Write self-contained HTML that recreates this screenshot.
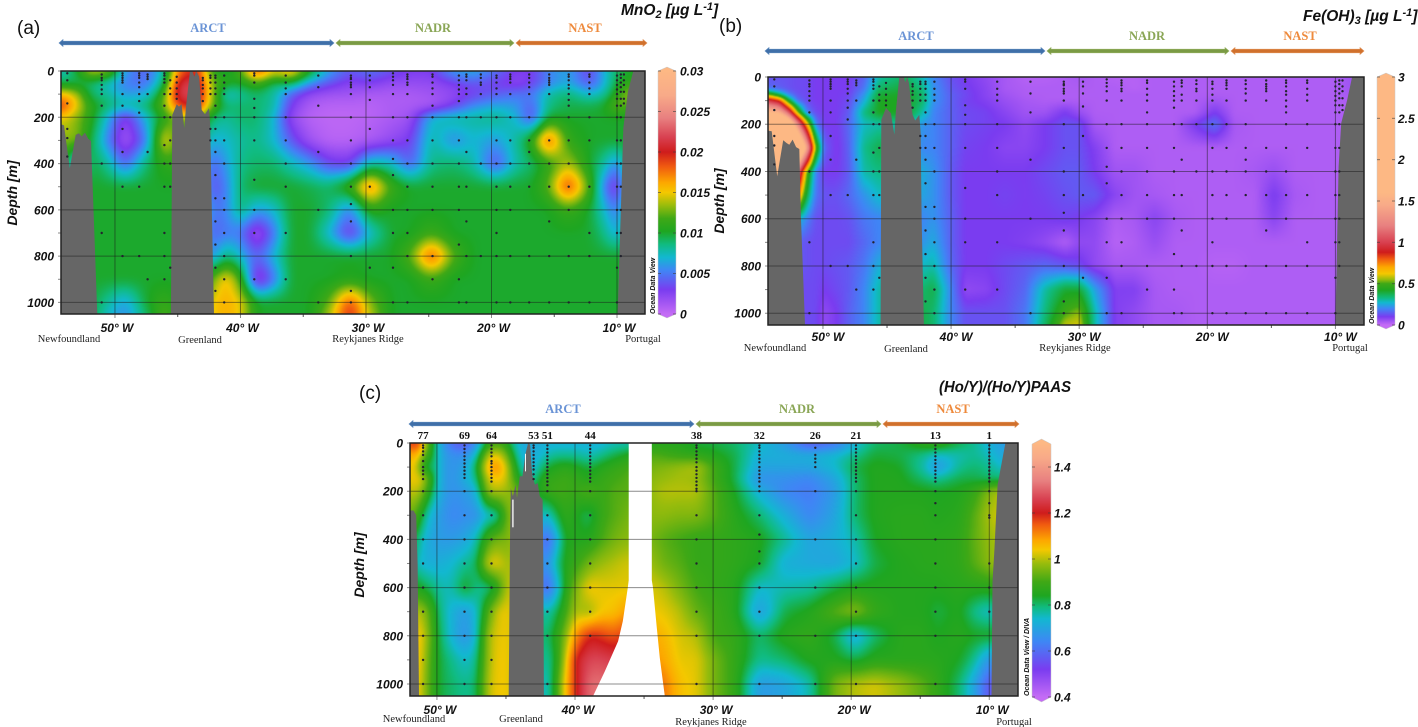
<!DOCTYPE html>
<html lang="en">
<head>
<meta charset="utf-8">
<title>Depth sections of MnO2, Fe(OH)3 and (Ho/Y)/(Ho/Y)PAAS</title>
<style>
html,body{margin:0;padding:0;background:#fff;}
#figure{position:relative;width:1418px;height:727px;overflow:hidden;background:#fff;filter:blur(0.35px);}
canvas{position:absolute;display:block;z-index:0;}
#overlay{position:absolute;left:0;top:0;z-index:1;}
text{font-family:"Liberation Sans",Arial,sans-serif;}
.panel-letter{font-size:19px;fill:#111;}
.chart-title{font-size:15.5px;font-weight:bold;font-style:italic;fill:#111;}
.region{font-family:"Liberation Serif",serif;font-size:12.5px;font-weight:bold;text-anchor:middle;}
.place{font-family:"Liberation Serif",serif;font-size:10.5px;fill:#222;text-anchor:middle;}
.axis-title{font-size:14px;font-weight:bold;font-style:italic;fill:#111;text-anchor:middle;}
.tick{font-size:12px;font-weight:bold;font-style:italic;fill:#111;}
.odv{font-size:7px;font-weight:bold;font-style:italic;fill:#111;}
.station-num{font-family:"Liberation Serif",serif;font-size:11px;font-weight:bold;fill:#111;text-anchor:middle;}
</style>
</head>
<body>
<div id="figure">
<canvas id="mno2-canvas"></canvas>
<canvas id="feoh3-canvas"></canvas>
<canvas id="hoy-canvas"></canvas>
<svg id="overlay" width="1418" height="727" viewBox="0 0 1418 727" xmlns="http://www.w3.org/2000/svg">
  <defs id="gradients"></defs>

  <text class="panel-letter" x="17" y="34">(a)</text>
  <text class="panel-letter" x="719" y="32">(b)</text>
  <text class="panel-letter" x="359" y="399">(c)</text>

  <text class="chart-title" x="621" y="15">MnO<tspan dy="3" font-size="11">2</tspan><tspan dy="-3"> [µg L</tspan><tspan dy="-5" font-size="11">-1</tspan><tspan dy="5">]</tspan></text>
  <text class="chart-title" x="1303" y="21">Fe(OH)<tspan dy="3" font-size="11">3</tspan><tspan dy="-3"> [µg L</tspan><tspan dy="-5" font-size="11">-1</tspan><tspan dy="5">]</tspan></text>
  <text class="chart-title" x="939" y="392" textLength="132" lengthAdjust="spacingAndGlyphs">(Ho/Y)/(Ho/Y)PAAS</text>

  <text class="region" x="208" y="32" fill="#6b94d6">ARCT</text>
  <text class="region" x="433" y="32" fill="#8aa656">NADR</text>
  <text class="region" x="585" y="32" fill="#ee8a3c">NAST</text>
  <text class="region" x="916" y="40" fill="#6b94d6">ARCT</text>
  <text class="region" x="1147" y="40" fill="#8aa656">NADR</text>
  <text class="region" x="1300" y="40" fill="#ee8a3c">NAST</text>
  <text class="region" x="563" y="413" fill="#6b94d6">ARCT</text>
  <text class="region" x="797" y="413" fill="#8aa656">NADR</text>
  <text class="region" x="953" y="413" fill="#ee8a3c">NAST</text>

  <text class="place" x="69" y="342">Newfoundland</text>
  <text class="place" x="200" y="343">Greenland</text>
  <text class="place" x="368" y="342">Reykjanes Ridge</text>
  <text class="place" x="643" y="342">Portugal</text>
  <text class="place" x="775" y="351">Newfoundland</text>
  <text class="place" x="906" y="352">Greenland</text>
  <text class="place" x="1075" y="351">Reykjanes Ridge</text>
  <text class="place" x="1350" y="351">Portugal</text>
  <text class="place" x="414" y="722">Newfoundland</text>
  <text class="place" x="521" y="722">Greenland</text>
  <text class="place" x="711" y="725">Reykjanes Ridge</text>
  <text class="place" x="1014" y="725">Portugal</text>

  <text class="axis-title" transform="translate(17,193) rotate(-90)">Depth [m]</text>
  <text class="axis-title" transform="translate(724,201) rotate(-90)">Depth [m]</text>
  <text class="axis-title" transform="translate(364,565) rotate(-90)">Depth [m]</text>

  <text class="odv" transform="translate(655,314) rotate(-90)">Ocean Data View</text>
  <text class="odv" transform="translate(1374,324) rotate(-90)">Ocean Data View</text>
  <text class="odv" transform="translate(1029,696) rotate(-90)">Ocean Data View / DIVA</text>
</svg>
</div>

<script>
/* ---------- shared axis values ---------- */
const lonTicks = [50, 40, 30, 20, 10];
const lonMinorTicks = [45, 35, 25, 15];
const depthTicks = [0, 200, 400, 600, 800, 1000];
const depthMinorTicks = [100, 300, 500, 700, 900];

/* ---------- colour ramp shared by all panels ---------- */
const rampColors = ['#c46cf5','#7a3cf0','#3f86f5','#12b8d0','#10bb80','#1ea621','#3fa816','#98bc0c','#f4c800','#fda800','#f05a10','#cf1c1c','#d84050','#e88080','#f8aa88','#fdb884'];

/* ---------- (a) MnO2, values in 0.001 ug/L ---------- */
const mno2RampStops = [0,3,5.4,7,8.6,10.2,11.8,13.4,15,16.2,18.2,20,21.8,24.2,27,30];
const mno2BarTicks = [0,5,10,15,20,25,30];
const mno2BarLabels = ['0','0.005','0.01','0.015','0.02','0.025','0.03'];
const mno2Lons = [54.3,53,52,50.5,49.2,47.5,46,45,43.5,42.3,41.2,40,38.7,37.3,36,34.5,33,31.3,29.7,28,26.5,24.8,23,21.5,19.7,18,16.8,15.5,13.9,12.2,11,10,9,7.77];
const mno2Depths = [0,50,100,150,200,300,400,500,600,700,800,900,1000,1050];
const mno2Values = [
[7,10,15,14,6,4,8,17,20,11,9,12,20,15,17,11,6.5,4,5,4,3,3,6.5,7,5,3,3,5.5,6.5,3,7,9,10,10],
[9,9,9,7,5,4.5,9,21,22,13,11,10,12,9,10,6,4,2.5,3,2,2,2,3,4,3,2,3,5,6.5,3.5,6.5,10,11,10],
[16,14,9,8,6,6.5,12,22,22,14,6.5,8,9,8,4,2,1.5,1.5,1,1,1,1.5,2,3,4,5,5,8,9,7,8,11,14,14],
[20,15,11,9,8,9,13,19,21,13,9,9,9,8,3,1,.5,.5,.5,1,1,1,3,5.5,6.5,6,4,8.5,9.5,9.5,10,13,12,10],
[15,13,11,6.5,2,7,11,13,14,9,8,9,9,7,2,.5,.3,.3,.5,1,1.5,7,8,8,8.5,7,3,10,10,10,10,10,10,10],
[13,13,10,5,1,5,16,11,10,6.5,7,8,8.5,7,4,1.5,.5,.5,1,2,3,8,5.5,7,6,8,11,19,11,10,10,10,10,10],
[13,3,10,8,4,9,11,11,10,4,6,8.5,9,9,7.5,6,3.5,3,8,7.5,4,8.5,9,8,3.5,8,9,11,14,10,8,5,10,10],
[10,10,10,10,10,10,10,10,10,3.5,5,9,10,10,10,9.5,9,11.5,18,11.5,10,10,10,10,10,10,10,12,19.5,12,5,1.5,10,10],
[10,10,10,10,10,10,10,10,10,5,5,9,6,7,10,10,9,5,11,10,10,10,10,10,10,10,10,10,11.5,10,7,4.5,10,10],
[10,10,10,10,10,10,10,10,10,4,5,5,1,5,10,10,7,2.5,7,10,10,11.5,10,10,10,10,10,10,10,10,8.5,6,10,10],
[10,10,10,10,10,10,10,10,10,5,9,7,4,7,10,10,10,10,10,10,12,19,12,10,10,10,10,10,10,10,10,10,10,10],
[10,10,10,10,10,10,10,10,10,12,16,12,1,5,10,10,10,10.5,10,10,10,11.5,10,10,10,10,10,10,10,10,10,10,10,10],
[10,10,10,8,6,10,11.5,10,10,15,16,15,10,10,10,10,12,19,13,10,10,10,10,10,10,10,10,10,10,10,10,10,10,10],
[10,10,10,7,5.5,9,12.5,10,10,15,16,15,10,10,10,10,13.5,20,14,10,10,10,10,10,10,10,10,10,10,10,10,10,10,10]
];
const mno2ShelfLons = [54.3,54.3,54.06,53.6,53.13,52.87,52.65,52.39,52.13,51.91,51.41];
const mno2ShelfDepths = [1050,230,235,420,276,269,283,266,293,302,1050];
const mno2RidgeLons = [45.54,45.43,45.08,44.9,44.69,44.48,44.34,44.02,43.84,43.68,43.52,43.3,43.09,42.83,42.51,42.41,42.3,42.11];
const mno2RidgeDepths = [1050,190,144,154,144,247,154,0,0,24,0,24,168,187,161,233,550,1050];
const mno2SlopeLons = [8.7,9.13,9.5,9.63,9.95,7.77,7.77];
const mno2SlopeDepths = [0,89,247,480,1050,1050,0];

/* ---------- (b) Fe(OH)3, values in ug/L ---------- */
const feRampStops = [0,.1,.2,.27,.33,.42,.5,.55,.62,.7,.8,.88,1,1.2,1.45,1.6];
const feBarTicks = [0,.5,1,1.5,2,2.5,3];
const feBarLabels = ['0','0.5','1','1.5','2','2.5','3'];
const feLons = [54.3,53.4,52.7,52,51.3,50.6,49.9,48.9,48,46.8,45.6,43.5,42.2,41.4,40,38.9,37.3,35.8,34.2,32.7,31.1,30,28.8,27.2,25.7,24.1,22.5,21,19.4,17.9,16.3,14.8,13.2,11.6,10,8.8,7.77];
const feDepths = [0,50,75,100,150,200,300,400,500,600,700,800,900,1000,1050];
const feValues = [
[.13,.13,.13,.12,.12,.1,.1,.1,.1,.15,.3,.36,.28,.2,.13,.1,.07,.04,.02,.02,.03,.04,.03,.02,.02,.03,.03,.03,.03,.03,.03,.03,.03,.03,.03,.05,.05],
[.17,.15,.13,.12,.12,.1,.1,.1,.1,.18,.36,.4,.33,.22,.14,.11,.08,.04,.03,.03,.03,.03,.03,.03,.02,.03,.03,.03,.03,.03,.03,.03,.03,.03,.03,.05,.05],
[.55,.35,.2,.13,.12,.1,.1,.1,.11,.22,.4,.42,.35,.22,.15,.12,.08,.05,.03,.03,.03,.03,.03,.03,.03,.03,.03,.03,.03,.03,.03,.03,.03,.03,.03,.04,.04],
[1,.85,.42,.17,.12,.1,.1,.1,.12,.25,.42,.42,.35,.22,.15,.11,.09,.06,.04,.03,.03,.03,.03,.03,.03,.03,.03,.03,.05,.03,.03,.03,.03,.03,.03,.03,.03],
[1.6,1.5,1.1,.55,.2,.12,.1,.1,.14,.33,.42,.42,.3,.2,.15,.12,.11,.08,.05,.05,.1,.06,.03,.03,.03,.03,.03,.03,.1,.03,.03,.03,.03,.03,.03,.03,.03],
[2.5,2.4,2,1.3,.7,.2,.1,.1,.16,.28,.3,.3,.22,.2,.15,.12,.11,.1,.07,.1,.13,.13,.04,.03,.03,.03,.03,.1,.17,.04,.03,.03,.03,.03,.03,.03,.03],
[2.5,2.5,2.5,2.3,1.5,.55,.15,.09,.15,.32,.38,.3,.2,.2,.15,.11,.1,.08,.08,.1,.13,.13,.09,.03,.03,.03,.03,.03,.03,.03,.03,.03,.03,.03,.03,.03,.03],
[2,2,1.8,1.2,.55,.2,.1,.1,.14,.3,.33,.3,.25,.22,.14,.1,.1,.1,.1,.12,.14,.14,.1,.05,.05,.03,.03,.03,.03,.03,.04,.06,.03,.03,.03,.03,.03],
[2,1.5,1,.8,.4,.18,.13,.13,.16,.22,.28,.26,.24,.22,.14,.1,.1,.11,.1,.11,.13,.14,.14,.08,.05,.04,.03,.03,.03,.03,.03,.1,.04,.03,.03,.03,.03],
[.3,.3,.3,.3,.2,.13,.12,.12,.13,.18,.2,.2,.2,.22,.15,.1,.1,.1,.1,.1,.11,.1,.08,.03,.04,.08,.04,.03,.03,.03,.03,.08,.03,.03,.03,.03,.03],
[.15,.15,.15,.15,.13,.12,.12,.12,.12,.16,.2,.2,.22,.25,.15,.1,.1,.1,.09,.07,.03,.07,.07,.02,.03,.06,.03,.03,.03,.03,.03,.03,.03,.03,.03,.03,.03],
[.14,.14,.14,.14,.13,.12,.12,.13,.14,.18,.26,.28,.28,.3,.16,.1,.1,.12,.14,.16,.14,.12,.07,.04,.04,.03,.03,.03,.02,.02,.03,.03,.03,.03,.03,.03,.03],
[.12,.12,.12,.12,.12,.12,.1,.12,.14,.2,.3,.33,.35,.38,.2,.07,.08,.12,.16,.3,.4,.4,.24,.09,.09,.04,.03,.03,.03,.03,.03,.03,.03,.03,.03,.03,.03],
[.12,.12,.12,.12,.12,.12,.07,.1,.15,.2,.3,.35,.38,.35,.2,.13,.13,.13,.18,.33,.5,.55,.3,.09,.07,.04,.04,.03,.03,.03,.03,.03,.03,.03,.03,.03,.03],
[.12,.12,.12,.12,.12,.12,.07,.1,.15,.2,.3,.35,.38,.35,.2,.13,.13,.13,.18,.35,.58,.6,.3,.09,.07,.04,.04,.03,.03,.03,.03,.03,.03,.03,.03,.03,.03]
];
const feShelfLons = [54.29,54.29,54,53.57,53.1,52.83,52.63,52.37,52.1,51.85,51.72,51.4];
const feShelfDepths = [1050,227,230,420,268,280,287,265,297,305,590,1050];
const feRidgeLons = [45.5,45.45,45.08,44.7,44.43,44.3,44.04,43.68,43.58,43.42,43.29,43,42.8,42.48,42.37,42.3,42.12];
const feRidgeDepths = [1050,181,131,153,244,138,0,0,22,0,25,160,184,160,237,590,1050];
const feSlopeLons = [8.7,9.08,9.55,9.75,10,7.77,7.77];
const feSlopeDepths = [0,97,195,380,1050,1050,0];

/* ---------- stations shared by (a) and (b) ---------- */
const cruiseStationLons = [53.8,51.06,49.4,48.07,47.4,46.06,45.6,45.08,43,42.4,42,41.3,38.9,36.4,33.8,31.2,29.7,27.85,26.7,24.7,22.6,22,20.85,19.6,18.5,17,15.4,13.85,12.2,10,9.7,9.45];
const cruiseStationDepths = [
[10,40,140,250,290,370],
[15,30,40,60,80,100,150,400,700,1000],
[10,20,30,40,50,100,150,250,350,500,800],
[10,20,30,50,70,100,130,180,500,800],
[15,25,35,100,350,900],
[10,20,35,50,100,150,200,320,400,500,700,800,900],
[40,75,100,200,300,400,500,850],
[25,50,75,100,120],
[30,40,60,75,100,130],
[20,30,50,75,100,250,300],
[20,30,50,75,100,150,200,250,300,350,450,550,650,750,850,950],
[20,50,75,100,200,300,400,550,600,700,800,900,1000],
[10,20,50,120,160,200,300,470,600,700,900],
[20,50,75,100,200,300,400,500,700,900],
[20,70,150,350,600,1000],
[20,30,35,50,60,70,100,200,300,400,500,575,650,800,950,1000],
[20,40,70,125,250,500,850],
[10,25,40,60,100,200,300,380,450,600,700,850,1000],
[15,25,35,50,60,100,200,300,400,500,600,700,800,1000],
[15,25,50,75,100,150,200,300,400,500,600,800,900],
[20,40,60,80,100,130,200,300,400,500,600,750,900,1000],
[15,25,40,75,100,200,350,500,650,800,1000],
[15,30,50,60,100,200,400,800],
[20,30,50,75,100,200,300,400,500,600,700,800,1000],
[15,25,35,50,100,200,300,400,500,600,800,1000],
[15,30,50,70,100,200,300,350,400,500,800,1000],
[15,30,40,50,60,100,300,400,500,650,800,1000],
[15,25,40,60,75,100,125,150,200,300,400,500,600,800,1000],
[15,25,50,75,100,200,300,500,700,800,1000],
[20,40,60,80,100,120,150,200,300,400,500,600,700,850,1000],
[15,30,50,70,90,120,150,200,300,400,500,600,700,800],
[15,40,60,90,120,140]
];

/* ---------- (c) (Ho/Y)/(Ho/Y)PAAS ---------- */
const hoyRampStops = [.4,.52,.64,.74,.79,.84,.9,.98,1.04,1.08,1.15,1.2,1.26,1.34,1.44,1.5];
const hoyBarTicks = [.4,.6,.8,1,1.2,1.4];
const hoyBarLabels = ['0.4','0.6','0.8','1','1.2','1.4'];
const hoyLons = [51.95,51.37,50.87,50.36,49.71,48.84,47.97,47.11,46.38,45.66,44.93,44.14,43.27,42.19,41.46,40.74,40.01,38.93,38.21,37.12,36.11,34.44,33.5,32.42,31.19,29.96,28.44,26.63,24.82,23.01,21.2,19.75,18.31,16.5,14.69,13.82,12.16,11.07,9.98,9.04,7.92];
const hoyDepths = [0,50,100,150,200,300,400,500,600,700,800,900,1000];
const hoyColumns = [
[1.15,1.05,1.03,1.03,1,.95,.85,.8,.85,1,1.05,1.05,1.05],
[1.25,1.1,1.05,1.05,1.02,.9,.8,.75,.85,1,1.05,1.05,1.05],
[1,.9,.75,1,.92,.78,.72,.72,.82,.98,1.02,1,.98],
[.85,.85,.85,.85,.82,.72,.7,.72,.8,.88,.9,.88,.88],
[.7,.7,.7,.7,.7,.68,.68,.72,.76,.78,.8,.82,.82],
[.58,.66,.66,.66,.66,.64,.68,.74,.76,.72,.72,.78,.8],
[.55,.66,.7,.72,.68,.66,.7,.78,.85,.68,.66,.74,.78],
[.66,.75,.82,.78,.72,.66,.76,.8,.78,.74,.74,.78,.8],
[.85,1,1.08,1.02,.98,.75,.9,1.02,.78,.9,.98,.98,1],
[.9,1.05,1.12,1.05,1,.75,.95,1.04,.85,1.02,1.03,1.04,1.04],
[.85,.95,1.02,1.02,.98,.95,.95,.98,1.02,1.04,1.04,1.04,1.04],
[.72,.75,.8,.85,.95,1,1,1,1,1,1,1,1],
[.7,.7,.7,.75,.8,.85,.85,.85,.85,.85,.85,.85,.85],
[.72,.75,.82,.88,.88,.72,.55,.62,.55,.75,.78,.76,.72],
[.72,.78,.85,.88,.9,.8,.68,.76,.68,.8,.85,.82,.85],
[.72,.78,.87,.9,.9,.88,.85,.85,.85,.88,.95,1,1.05],
[.72,.78,.85,.88,.88,.85,.85,.88,.95,1,1.1,1.2,1.18],
[.72,.75,.82,.85,.92,.8,.85,.95,1.05,.98,1.2,1.27,1.32],
[.72,.78,.85,.88,.88,.88,.9,.98,1.03,1.04,1.18,1.27,1.32],
[.75,.82,.88,.9,.92,.92,.95,1,1.03,1.05,1.15,1.25,1.3],
[.75,.85,.9,.92,.92,.95,.97,1.02,1.03,1.1,1.2,1.25,1.3],
[.85,.92,.95,.97,.98,.97,.95,.98,1.02,1.04,1.08,1.1,1.16],
[.85,.9,.96,.98,1,.97,.92,.94,1,1.03,1.06,1.08,1.12],
[.85,.88,.98,.99,1,.96,.9,.92,.95,1,1.02,1.03,1.05],
[.82,.87,1,.98,1,.96,.88,.88,.9,.93,1,1.03,1.03],
[.82,.85,.9,.9,.92,.92,.88,.88,.88,.9,.9,.95,.95],
[.8,.82,.82,.82,.84,.86,.87,.87,.86,.86,.88,.88,.88],
[.75,.72,.7,.66,.72,.8,.85,.84,.74,.68,.8,.78,.68],
[.68,.72,.7,.66,.64,.72,.78,.72,.76,.82,.86,.8,.7],
[.55,.72,.7,.64,.62,.64,.7,.71,.77,.85,.88,.85,.76],
[.6,.74,.74,.7,.68,.7,.72,.7,.82,.92,.82,.85,.95],
[.72,.78,.82,.8,.8,.8,.76,.74,.85,.97,.7,.82,1],
[.8,.83,.85,.85,.85,.85,.84,.82,.85,.88,.8,.86,1.02],
[.82,.82,.84,.85,.85,.86,.86,.85,.85,.85,.86,.86,.98],
[.88,.78,.76,.8,.85,.86,.86,.86,.85,.85,.86,.86,.92],
[.9,.74,.66,.78,.84,.85,.86,.86,.85,.82,.84,.86,.88],
[.82,.76,.78,.82,.85,.86,.87,.87,.86,.85,.86,.84,.8],
[.78,.78,.8,.82,.88,.92,.93,.92,.86,.78,.84,.78,.7],
[.72,.75,.78,.8,.97,1,.98,.97,.86,.74,.84,.66,.55],
[.68,.7,.74,.8,1,1.02,1,1,.9,.8,.84,.7,.6],
[.68,.7,.74,.8,1,1.02,1,1,.9,.8,.84,.7,.6]
];
const hoyShelfLons = [51.95,51.95,51.7,51.5,51.4,51.3];
const hoyShelfDepths = [1050,280,280,300,500,1050];
const hoyRidgeLons = [44.8,44.7,44.65,44.5,44.3,44.2,44,43.8,43.6,43.4,43.25,43.1,42.9,42.7,42.55,42.35,42.3,42.25];
const hoyRidgeDepths = [1050,353,187,221,173,228,138,138,48,0,7,131,173,166,221,235,478,1050];
const hoySlopeLons = [8.83,9.4,9.62,9.77,9.84,7.92,7.92];
const hoySlopeDepths = [0,174,436,577,1050,1050,0];
const hoyGapLons = [36.11,36.11,36.18,36.54,36.88,37.84,38.69,33.5,33.86,34.1,34.35,34.44,34.44];
const hoyGapDepths = [0,570,600,740,823,948,1050,1050,892,754,600,570,0];
const hoySliverALons = [44.55,44.45,44.45,44.55];
const hoySliverADepths = [235,235,350,350];
const hoySliverBLons = [43.62,43.55,43.55,43.62];
const hoySliverBDepths = [45,45,118,118];
const hoyStationNumbers = ['77','69','64','53','51','44','38','32','26','21','13','1'];
const hoyStationLons = [51,48,46.05,43,42,38.9,31.2,26.65,22.6,19.65,13.9,10];
const hoyStationDepths = [
[10,20,35,50,75,100,115,130,150,200,300,400,500,600,700,800,900,1000],
[10,25,40,55,70,85,100,115,130,145,200,300,400,500,600,700,800,900,1000],
[10,25,40,55,75,85,100,115,130,145,160,200,300,400,500,600,700,800,900,1000],
[10,20,35,50,65,80,95,110,130,150],
[10,25,40,55,70,85,100,115,130,145,160,175,200,300,400,500,600,700,800,1000],
[10,25,40,55,70,85,100,115,130,145,160,200,300,400,500,600,700,800],
[10,20,35,50,65,80,100,115,130,145,160,175,190,200,300,400,500,600,700,800,1000],
[10,20,35,50,65,80,100,115,130,145,160,180,200,300,380,450,500,600,700,800,1000],
[20,50,65,80,100,200,400,600,800,1000],
[10,25,40,55,70,85,100,115,130,145,160,200,300,400,500,600,700,800,1000],
[10,25,40,55,70,85,100,115,130,145,160,200,250,300,400,500,600,700,800,1000],
[10,25,40,55,70,85,100,115,130,145,160,200,250,300,310,500,600,700]
];

/* ---------- layout of the three panels ---------- */
const mno2Panel = {key:'mno2',canvas:'mno2-canvas',left:61,right:645,top:71,bottom:314,lonLeft:54.3,lonRight:7.77,depthMax:1050,
  lons:mno2Lons,depths:mno2Depths,cell:(r,c)=>mno2Values[r][c],stops:mno2RampStops,blurX:6,blurY:5,
  lands:[[mno2ShelfLons,mno2ShelfDepths],[mno2RidgeLons,mno2RidgeDepths],[mno2SlopeLons,mno2SlopeDepths]],gaps:[],
  stationLons:cruiseStationLons,stationDepths:cruiseStationDepths,
  xLabelDx:2,xLabelY:332,yLabelX:54,
  bar:{left:658,right:676,top:71,bottom:314,tip:4,labelX:680,min:0,max:30,ticks:mno2BarTicks,labels:mno2BarLabels},
  arrows:{y:43,arct:[59,334],nadr:[336,514],nast:[516,647]}};
const fePanel = {key:'feoh3',canvas:'feoh3-canvas',left:768,right:1364,top:77,bottom:325,lonLeft:54.29,lonRight:7.77,depthMax:1050,
  lons:feLons,depths:feDepths,cell:(r,c)=>feValues[r][c],stops:feRampStops,blurX:2,blurY:2,
  lands:[[feShelfLons,feShelfDepths],[feRidgeLons,feRidgeDepths],[feSlopeLons,feSlopeDepths]],gaps:[],
  stationLons:cruiseStationLons,stationDepths:cruiseStationDepths,
  xLabelDx:5,xLabelY:341,yLabelX:761,
  bar:{left:1377,right:1395,top:77,bottom:325,tip:4,labelX:1398,min:0,max:3,ticks:feBarTicks,labels:feBarLabels},
  arrows:{y:51,arct:[765,1045],nadr:[1047,1229],nast:[1231,1364]}};
const hoyPanel = {key:'hoy',canvas:'hoy-canvas',left:410,right:1018,top:443,bottom:696,lonLeft:51.95,lonRight:7.92,depthMax:1050,
  lons:hoyLons,depths:hoyDepths,cell:(r,c)=>hoyColumns[c][r],stops:hoyRampStops,blurX:5,blurY:4,
  lands:[[hoyShelfLons,hoyShelfDepths],[hoyRidgeLons,hoyRidgeDepths],[hoySlopeLons,hoySlopeDepths]],
  gaps:[[hoyGapLons,hoyGapDepths]],slivers:[[hoySliverALons,hoySliverADepths],[hoySliverBLons,hoySliverBDepths]],
  stationLons:hoyStationLons,stationDepths:hoyStationDepths,stationNumbers:hoyStationNumbers,
  xLabelDx:3,xLabelY:714,yLabelX:403,
  bar:{left:1032,right:1051,top:444,bottom:697,tip:5,labelX:1054,min:.4,max:1.5,ticks:hoyBarTicks,labels:hoyBarLabels},
  arrows:{y:424,arct:[409,694],nadr:[696,881],nast:[883,1019]}};

const SVG_NS = 'http://www.w3.org/2000/svg';
const overlay = document.getElementById('overlay');
const gradientDefs = document.getElementById('gradients');

function svgNode(tag, parent) {
  const node = document.createElementNS(SVG_NS, tag);
  parent.appendChild(node);
  return node;
}
function hexToRgb(hex) {
  return [parseInt(hex.slice(1,3),16), parseInt(hex.slice(3,5),16), parseInt(hex.slice(5,7),16)];
}
function colorFor(value, stops) {
  if (value <= stops[0]) return hexToRgb(rampColors[0]);
  for (let i = 1; i < stops.length; i++) {
    if (value <= stops[i]) {
      const f = (value - stops[i-1]) / (stops[i] - stops[i-1]);
      const a = hexToRgb(rampColors[i-1]), b = hexToRgb(rampColors[i]);
      return [a[0]+(b[0]-a[0])*f, a[1]+(b[1]-a[1])*f, a[2]+(b[2]-a[2])*f];
    }
  }
  return hexToRgb(rampColors[rampColors.length-1]);
}
function xScale(p, lon) { return p.left + (p.lonLeft - lon) / (p.lonLeft - p.lonRight) * (p.right - p.left); }
function yScale(p, depth) { return p.top + depth / p.depthMax * (p.bottom - p.top); }

function bracket(axis, v, descending) {
  const n = axis.length;
  for (let i = 0; i < n - 1; i++) {
    const a = axis[i], b = axis[i+1];
    if (descending ? v >= b : v <= b) {
      let f = (v - a) / (b - a);
      f = Math.max(0, Math.min(1, f));
      return [i, f];
    }
  }
  return [n - 2, 1];
}
function blurField(src, w, h, rx, ry) {
  let cur = src;
  for (let pass = 0; pass < 2; pass++) {
    const horiz = new Float32Array(w * h);
    for (let y = 0; y < h; y++) {
      for (let x = 0; x < w; x++) {
        let sum = 0, cnt = 0;
        for (let k = -rx; k <= rx; k++) {
          const xx = Math.max(0, Math.min(w - 1, x + k));
          sum += cur[y * w + xx]; cnt++;
        }
        horiz[y * w + x] = sum / cnt;
      }
    }
    const vert = new Float32Array(w * h);
    for (let x = 0; x < w; x++) {
      for (let y = 0; y < h; y++) {
        let sum = 0, cnt = 0;
        for (let k = -ry; k <= ry; k++) {
          const yy = Math.max(0, Math.min(h - 1, y + k));
          sum += horiz[yy * w + x]; cnt++;
        }
        vert[y * w + x] = sum / cnt;
      }
    }
    cur = vert;
  }
  return cur;
}
function paintField(p) {
  const canvas = document.getElementById(p.canvas);
  const w = p.right - p.left, h = p.bottom - p.top;
  canvas.width = w; canvas.height = h;
  canvas.style.left = p.left + 'px';
  canvas.style.top = p.top + 'px';
  const raw = new Float32Array(w * h);
  for (let y = 0; y < h; y++) {
    const depth = (y + .5) / h * p.depthMax;
    const [ri, rf] = bracket(p.depths, depth, false);
    for (let x = 0; x < w; x++) {
      const lon = p.lonLeft - (x + .5) / w * (p.lonLeft - p.lonRight);
      const [ci, cf] = bracket(p.lons, lon, true);
      const v00 = p.cell(ri, ci), v01 = p.cell(ri, ci + 1);
      const v10 = p.cell(ri + 1, ci), v11 = p.cell(ri + 1, ci + 1);
      raw[y * w + x] = (v00*(1-cf)+v01*cf)*(1-rf) + (v10*(1-cf)+v11*cf)*rf;
    }
  }
  const field = blurField(raw, w, h, p.blurX, p.blurY);
  const ctx = canvas.getContext('2d');
  const img = ctx.createImageData(w, h);
  for (let i = 0; i < w * h; i++) {
    const c = colorFor(field[i], p.stops);
    img.data[i*4] = c[0]; img.data[i*4+1] = c[1]; img.data[i*4+2] = c[2]; img.data[i*4+3] = 255;
  }
  ctx.putImageData(img, 0, 0);
}
function polygonPoints(p, lons, depths) {
  return lons.map((lon, i) => xScale(p, lon).toFixed(1) + ',' + yScale(p, depths[i]).toFixed(1)).join(' ');
}
function drawArrow(x1, x2, y, fill, stroke, name) {
  const arrow = svgNode('polygon', overlay);
  
  
  arrow.setAttribute('points', [[x1,y],[x1+4,y-3.5],[x1+4,y-1.8],[x2-4,y-1.8],[x2-4,y-3.5],[x2,y],[x2-4,y+3.5],[x2-4,y+1.8],[x1+4,y+1.8],[x1+4,y+3.5]].map(q=>q.join(',')).join(' '));
  arrow.setAttribute('fill', fill);
  arrow.setAttribute('stroke', stroke);
  arrow.setAttribute('stroke-width', '0.6');
}
function drawPanel(p) {
  paintField(p);

  p.lands.forEach(land => {
    const poly = svgNode('polygon', overlay);
    
    
    poly.setAttribute('points', polygonPoints(p, land[0], land[1]));
    poly.setAttribute('fill', '#666666');
  });
  p.gaps.forEach(gap => {
    const poly = svgNode('polygon', overlay);
    
    
    poly.setAttribute('points', polygonPoints(p, gap[0], gap[1]));
    poly.setAttribute('fill', '#ffffff');
  });
  (p.slivers || []).forEach(gap => {
    const poly = svgNode('polygon', overlay);
    
    
    poly.setAttribute('points', polygonPoints(p, gap[0], gap[1]));
    poly.setAttribute('fill', '#f4f4f4');
  });

  lonTicks.forEach(lon => {
    const x = xScale(p, lon);
    const line = svgNode('line', overlay);
    
    
    line.setAttribute('x1', x); line.setAttribute('x2', x);
    line.setAttribute('y1', p.top); line.setAttribute('y2', p.bottom + 4);
    line.setAttribute('stroke', 'rgba(25,25,25,0.5)');
    line.setAttribute('stroke-width', '1');
    const label = svgNode('text', overlay);
    
    
    label.setAttribute('class', 'tick');
    label.setAttribute('text-anchor', 'middle');
    label.setAttribute('x', x + p.xLabelDx);
    label.setAttribute('y', p.xLabelY);
    label.textContent = lon + '° W';
  });
  lonMinorTicks.forEach(lon => {
    const x = xScale(p, lon);
    const line = svgNode('line', overlay);
    
    
    line.setAttribute('x1', x); line.setAttribute('x2', x);
    line.setAttribute('y1', p.bottom); line.setAttribute('y2', p.bottom + 3);
    line.setAttribute('stroke', '#555');
  });
  depthTicks.forEach(depth => {
    const y = yScale(p, depth);
    const line = svgNode('line', overlay);
    
    
    line.setAttribute('x1', p.left - 3); line.setAttribute('x2', p.right);
    line.setAttribute('y1', y); line.setAttribute('y2', y);
    line.setAttribute('stroke', 'rgba(25,25,25,0.5)');
    line.setAttribute('stroke-width', '1');
    const label = svgNode('text', overlay);
    
    
    label.setAttribute('class', 'tick');
    label.setAttribute('text-anchor', 'end');
    label.setAttribute('x', p.yLabelX);
    label.setAttribute('y', y + 4.5);
    label.textContent = String(depth);
  });
  depthMinorTicks.forEach(depth => {
    const y = yScale(p, depth);
    const line = svgNode('line', overlay);
    
    
    line.setAttribute('x1', p.left - 3); line.setAttribute('x2', p.left);
    line.setAttribute('y1', y); line.setAttribute('y2', y);
    line.setAttribute('stroke', '#888');
  });

  p.stationLons.forEach((lon, s) => {
    p.stationDepths[s].forEach(depth => {
      const dot = svgNode('circle', overlay);
      
      
      dot.setAttribute('cx', xScale(p, lon).toFixed(1));
      dot.setAttribute('cy', yScale(p, depth).toFixed(1));
      dot.setAttribute('r', '1.2');
      dot.setAttribute('fill', '#23232e');
    });
    if (p.stationNumbers) {
      const num = svgNode('text', overlay);
      
      
      num.setAttribute('class', 'station-num');
      num.setAttribute('x', xScale(p, lon).toFixed(1));
      num.setAttribute('y', p.top - 4);
      num.textContent = p.stationNumbers[s];
    }
  });

  const frame = svgNode('rect', overlay);
  
  
  frame.setAttribute('x', p.left); frame.setAttribute('y', p.top);
  frame.setAttribute('width', p.right - p.left); frame.setAttribute('height', p.bottom - p.top);
  frame.setAttribute('fill', 'none');
  frame.setAttribute('stroke', '#222');
  frame.setAttribute('stroke-width', '1.5');

  const b = p.bar;
  const grad = svgNode('linearGradient', gradientDefs);
  grad.setAttribute('id', p.key + '-ramp');
  grad.setAttribute('gradientUnits', 'userSpaceOnUse');
  grad.setAttribute('x1', '0'); grad.setAttribute('x2', '0');
  grad.setAttribute('y1', b.bottom); grad.setAttribute('y2', b.top);
  p.stops.forEach((stopValue, i) => {
    const stop = svgNode('stop', grad);
    stop.setAttribute('offset', ((stopValue - b.min) / (b.max - b.min)).toFixed(4));
    stop.setAttribute('stop-color', rampColors[i]);
  });
  const mid = (b.left + b.right) / 2;
  const bar = svgNode('polygon', overlay);
  
  
  bar.setAttribute('points', [[b.left,b.top],[mid,b.top-b.tip],[b.right,b.top],[b.right,b.bottom],[mid,b.bottom+b.tip],[b.left,b.bottom]].map(q=>q.join(',')).join(' '));
  bar.setAttribute('fill', 'url(#' + p.key + '-ramp)');
  bar.setAttribute('stroke', '#c8c8c8');
  bar.setAttribute('stroke-width', '0.5');
  b.ticks.forEach((tick, i) => {
    const y = b.bottom - (tick - b.min) / (b.max - b.min) * (b.bottom - b.top);
    const tl = svgNode('line', overlay);
    
    
    tl.setAttribute('x1', b.left); tl.setAttribute('x2', b.left + 3);
    tl.setAttribute('y1', y); tl.setAttribute('y2', y);
    tl.setAttribute('stroke', 'rgba(60,60,60,0.6)');
    const tr = svgNode('line', overlay);
    
    
    tr.setAttribute('x1', b.right - 3); tr.setAttribute('x2', b.right);
    tr.setAttribute('y1', y); tr.setAttribute('y2', y);
    tr.setAttribute('stroke', 'rgba(60,60,60,0.6)');
    const label = svgNode('text', overlay);
    
    
    label.setAttribute('class', 'tick');
    label.setAttribute('x', b.labelX);
    label.setAttribute('y', y + 4.5);
    label.textContent = b.labels[i];
  });

  drawArrow(p.arrows.arct[0], p.arrows.arct[1], p.arrows.y, '#3f6fa8', '#5b88bd', p.key + '-arct-arrow');
  drawArrow(p.arrows.nadr[0], p.arrows.nadr[1], p.arrows.y, '#7a9a44', '#94b060', p.key + '-nadr-arrow');
  drawArrow(p.arrows.nast[0], p.arrows.nast[1], p.arrows.y, '#d0702c', '#e08f55', p.key + '-nast-arrow');
}

drawPanel(mno2Panel);
drawPanel(fePanel);
drawPanel(hoyPanel);
</script>
</body>
</html>
